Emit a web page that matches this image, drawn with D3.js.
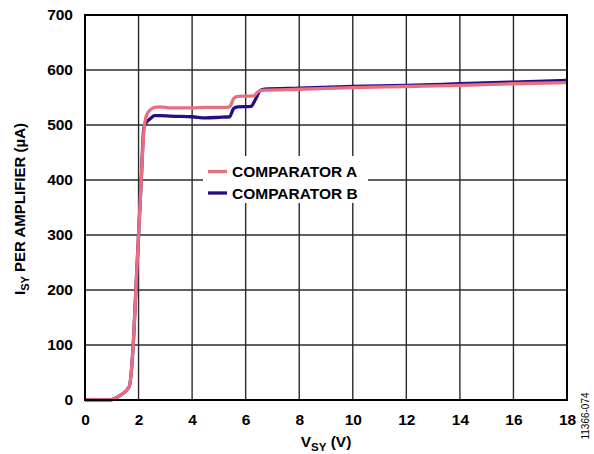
<!DOCTYPE html>
<html><head><meta charset="utf-8">
<script src="https://cdn.jsdelivr.net/npm/d3@7"></script>
<style>body{margin:0;background:#fff}svg{display:block}text{font-family:"Liberation Sans",Arial,sans-serif}</style>
</head><body>
<svg id="c" width="594" height="454"></svg>
<script>
const xTicks = [0,2,4,6,8,10,12,14,16,18];
const yTicks = [0,100,200,300,400,500,600,700];
const seriesNames = ["COMPARATOR A","COMPARATOR B"];
const seriesColors = ["#E96F80","#2A0C82"];
const vsyA = [0,0.9,1.3,1.65,1.8,1.9,2.0,2.1,2.2,2.3,2.45,2.6,2.8,3.2,4,4.5,5.2,5.4,5.55,5.7,6.3,6.45,6.6,8,10,12,14,16,18];
const isyA = [0,0,8,24,100,200,300,400,490,518,528,532,533,531,531,532,532,533,548,552,553,560,563,565,568,570,572,575,577];
const vsyB = [0,0.9,1.3,1.65,1.8,1.9,2.0,2.1,2.2,2.3,2.45,2.6,2.8,3.2,4,4.5,5.0,5.4,5.55,5.7,6.2,6.35,6.55,6.7,8,10,12,14,16,18];
const isyB = [0,0,8,24,100,200,300,400,495,505,512,517,517,516,515,513,514,515,530,533,534,545,563,565,567,570,572,575,578,581];

const svg = d3.select("#c");
const L=85,R=567,T=15,B=400;
const x = d3.scaleLinear().domain([0,18]).range([L,R]);
const y = d3.scaleLinear().domain([0,700]).range([B,T]);

// grid
svg.append("g").selectAll("line").data(xTicks.slice(1,-1)).join("line")
  .attr("x1",d=>x(d)).attr("x2",d=>x(d)).attr("y1",T).attr("y2",B)
  .attr("stroke","#2b2b2b").attr("stroke-width",1.4);
svg.append("g").selectAll("line").data(yTicks.slice(1,-1)).join("line")
  .attr("x1",L).attr("x2",R).attr("y1",d=>y(d)).attr("y2",d=>y(d))
  .attr("stroke","#2b2b2b").attr("stroke-width",1.4);

// legend background
svg.append("rect").attr("x",203).attr("y",156).attr("width",165).attr("height",47).attr("fill","#fff");

// lines
const line = d3.line().x(d=>x(d[0])).y(d=>y(d[1])).curve(d3.curveMonotoneX);
const dA = vsyA.map((v,i)=>[v,isyA[i]]);
const dB = vsyB.map((v,i)=>[v,isyB[i]]);
svg.append("path").attr("d",line(dB)).attr("fill","none").attr("stroke",seriesColors[1]).attr("stroke-width",3.3);
svg.append("path").attr("d",line(dA)).attr("fill","none").attr("stroke",seriesColors[0]).attr("stroke-width",3.3);

// frame
svg.append("rect").attr("x",L).attr("y",T).attr("width",R-L).attr("height",B-T)
  .attr("fill","none").attr("stroke","#000").attr("stroke-width",2);

// axes (labels only)
const xAxis = d3.axisBottom(x).tickValues(xTicks).tickSize(0).tickPadding(14);
const gx = svg.append("g").attr("transform",`translate(0,${B})`).call(xAxis);
gx.select(".domain").remove();
gx.selectAll("text").attr("font-size",15.5).attr("font-weight","bold").attr("fill","#000")
  .attr("font-family","'Liberation Sans',Arial,sans-serif");
const yAxis = d3.axisLeft(y).tickValues(yTicks).tickSize(0).tickPadding(12);
const gy = svg.append("g").attr("transform",`translate(${L},0)`).call(yAxis);
gy.select(".domain").remove();
gy.selectAll("text").attr("font-size",15.5).attr("font-weight","bold").attr("fill","#000")
  .attr("font-family","'Liberation Sans',Arial,sans-serif");

// axis titles
const xt = svg.append("text").attr("x",326).attr("y",447).attr("text-anchor","middle")
  .attr("font-size",15.5).attr("font-weight","bold");
xt.append("tspan").text("V");
xt.append("tspan").attr("font-size",11.5).attr("dy",4).text("SY");
xt.append("tspan").attr("dy",-4).text(" (V)");

const yt = svg.append("text").attr("transform","translate(25,209) rotate(-90)").attr("text-anchor","middle")
  .attr("font-size",15).attr("font-weight","bold");
yt.append("tspan").text("I");
yt.append("tspan").attr("font-size",11).attr("dy",4).text("SY");
yt.append("tspan").attr("dy",-4).text(" PER AMPLIFIER (µA)");

// legend
seriesNames.forEach((n,i)=>{
  const yy = 171.5 + i*21.5;
  svg.append("line").attr("x1",208).attr("x2",227).attr("y1",yy).attr("y2",yy)
    .attr("stroke",seriesColors[i]).attr("stroke-width",3.3);
  svg.append("text").attr("x",232).attr("y",yy+5.5).attr("font-size",15.5).attr("font-weight","bold").text(n);
});

// id
svg.append("text").attr("transform","translate(589,416) rotate(-90)").attr("text-anchor","middle")
  .attr("font-size",10).text("11366-074");
</script>
</body></html>
